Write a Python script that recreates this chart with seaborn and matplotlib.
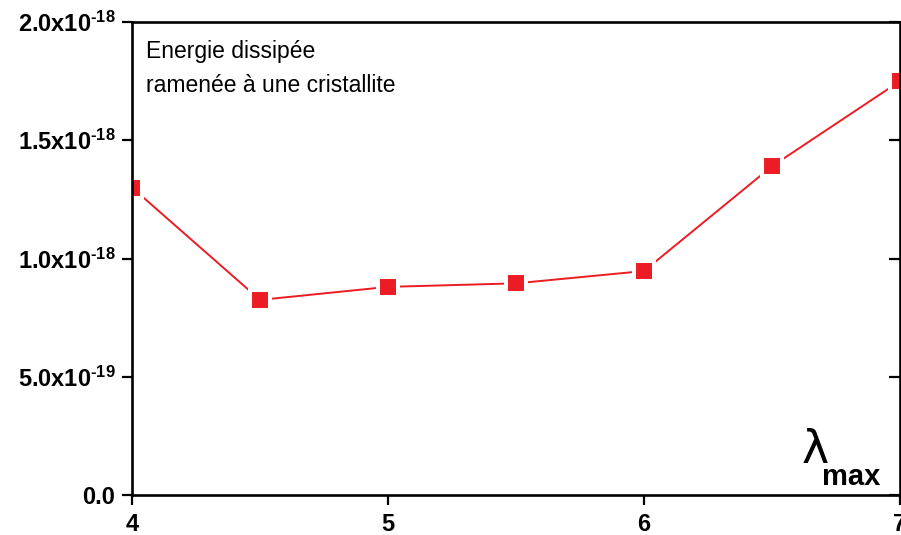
import numpy as np
import pandas as pd
import matplotlib
matplotlib.use("Agg")
import matplotlib.pyplot as plt
import seaborn as sns

# data
lambda_max = [4.0, 4.5, 5.0, 5.5, 6.0, 6.5, 7.0]
energy = [1.30e-18, 0.825e-18, 0.88e-18, 0.895e-18, 0.947e-18, 1.39e-18, 1.75e-18]

x_ticks = [4, 5, 6, 7]
x_ticklabels = ["4", "5", "6", "7"]
y_ticks = [0.0, 0.5e-18, 1.0e-18, 1.5e-18, 2.0e-18]
y_ticklabels = ["0.0", r"5.0x10$^{\text{-19}}$", r"1.0x10$^{\text{-18}}$",
                r"1.5x10$^{\text{-18}}$", r"2.0x10$^{\text{-18}}$"]

df = pd.DataFrame({"lambda_max": lambda_max, "energy": energy})

sns.set_style("ticks")
plt.rcParams["font.family"] = ["Liberation Sans", "DejaVu Sans"]
plt.rcParams["mathtext.fontset"] = "custom"
plt.rcParams["mathtext.rm"] = "Liberation Sans:bold"
plt.rcParams["mathtext.it"] = "Liberation Sans:bold"
plt.rcParams["mathtext.bf"] = "Liberation Sans:bold"
plt.rcParams["mathtext.default"] = "rm"
plt.rcParams["text.color"] = "black"
plt.rcParams["xtick.color"] = "black"
plt.rcParams["ytick.color"] = "black"
plt.rcParams["xtick.labelcolor"] = "black"
plt.rcParams["ytick.labelcolor"] = "black"

fig = plt.figure(figsize=(9.01, 5.35), dpi=100)
ax = fig.add_axes([132 / 901, 40 / 535, 768 / 901, 473 / 535])

red = "#ED1C24"
sns.lineplot(data=df, x="lambda_max", y="energy", ax=ax, color=red,
             linewidth=1.4, marker="s", markersize=15,
             markerfacecolor=red, markeredgecolor="white", markeredgewidth=2.9)

ax.set_xlim(4, 7)
ax.set_ylim(0, 2e-18)
ax.set_xticks(x_ticks)
ax.set_xticklabels(x_ticklabels, fontsize=17, fontweight="bold")
ax.set_yticks(y_ticks)
ax.set_yticklabels(y_ticklabels, fontsize=17, fontweight="bold")
ax.set_xlabel("")
ax.set_ylabel("")

for side in ["left", "right", "top", "bottom"]:
    ax.spines[side].set_visible(True)
    ax.spines[side].set_linewidth(1.9)
    ax.spines[side].set_color("black")

ax.tick_params(axis="y", which="major", left=True, right=False, direction="out",
               length=7, width=1.6, pad=5)
ax.tick_params(axis="x", which="major", top=False, direction="out",
               length=7, width=1.6, pad=6)

# right-side ticks point inward
ax2 = ax.twinx()
ax2.set_ylim(ax.get_ylim())
ax2.set_yticks(y_ticks)
ax2.set_yticklabels([])
ax2.tick_params(axis="y", direction="in", length=8, width=1.6)
for side in ["left", "right", "top", "bottom"]:
    ax2.spines[side].set_visible(False)

ax.text(0.018, 0.924, "Energie dissipée", transform=ax.transAxes,
        fontsize=16.5, ha="left", va="baseline")
ax.text(0.018, 0.852, "ramenée à une cristallite", transform=ax.transAxes,
        fontsize=16.5, ha="left", va="baseline")

ax.text(0.872, 0.068, "λ", transform=ax.transAxes, fontsize=33,
        family=["DejaVu Sans"], ha="left", va="baseline")
ax.text(0.899, 0.021, "max", transform=ax.transAxes, fontsize=21,
        fontweight="bold", ha="left", va="baseline")

fig.savefig("out.png", dpi=100)
